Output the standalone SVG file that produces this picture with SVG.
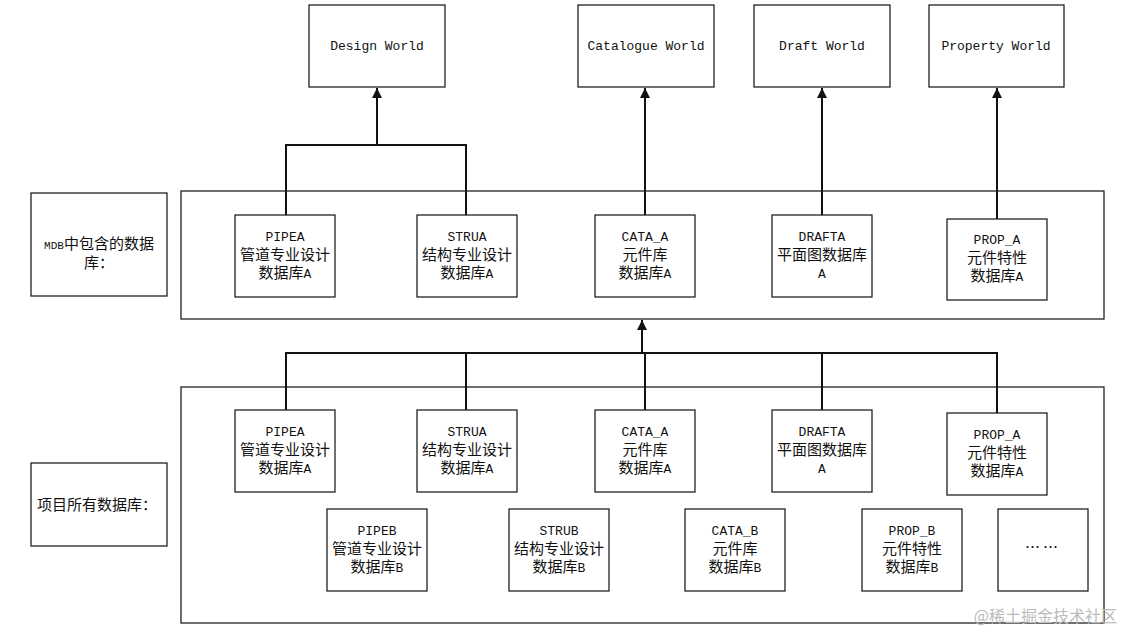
<svg xmlns="http://www.w3.org/2000/svg" width="1123" height="632" viewBox="0 0 1123 632">
<style>
.box{fill:#fff;stroke:#222;stroke-width:1.3}
.frame{fill:none;stroke:#222;stroke-width:1.3}
.con{fill:none;stroke:#111;stroke-width:2}
text{text-anchor:middle;fill:#111}
.m{font-family:"Liberation Mono","DejaVu Sans Mono",monospace;font-size:13px}
.s{font-family:"Liberation Mono","DejaVu Sans Mono",monospace;font-size:11px}
.c{font-family:"Noto Sans CJK SC","Noto Sans",sans-serif;font-size:15px}
.wm{font-family:"Noto Sans CJK SC",sans-serif;font-size:16px;fill:#bbb;text-anchor:end}
</style>
<defs>
<marker id="ah" viewBox="0 0 10 10" refX="10" refY="5" markerWidth="5" markerHeight="5" orient="auto" markerUnits="strokeWidth">
<path d="M0,0 L10,5 L0,10 z" fill="#111"/>
</marker>
</defs>
<rect width="1123" height="632" fill="#fff"/>

<!-- frames -->
<rect id="mdb-frame" class="frame" x="181" y="191" width="923" height="128"/>
<rect id="proj-frame" class="frame" x="181" y="387" width="923" height="236"/>

<!-- connectors -->
<g id="connectors">
<polyline class="con" points="286,215 286,145 466,145 466,215"/>
<line class="con" x1="377" y1="145" x2="377" y2="88" marker-end="url(#ah)"/>
<line class="con" x1="645" y1="215" x2="645" y2="88" marker-end="url(#ah)"/>
<line class="con" x1="822" y1="215" x2="822" y2="88" marker-end="url(#ah)"/>
<line class="con" x1="997" y1="219" x2="997" y2="88" marker-end="url(#ah)"/>
<polyline class="con" points="286,410 286,353 997,353 997,413"/>
<line class="con" x1="466" y1="353" x2="466" y2="410"/>
<line class="con" x1="645" y1="353" x2="645" y2="410"/>
<line class="con" x1="822" y1="353" x2="822" y2="410"/>
<line class="con" x1="642" y1="353" x2="642" y2="320" marker-end="url(#ah)"/>
</g>

<!-- world boxes -->
<g id="design-world"><rect class="box" x="309" y="5" width="136" height="82"/><text class="m" x="377" y="50">Design World</text></g>
<g id="catalogue-world"><rect class="box" x="578" y="5" width="136" height="82"/><text class="m" x="646" y="50">Catalogue World</text></g>
<g id="draft-world"><rect class="box" x="754" y="5" width="136" height="82"/><text class="m" x="822" y="50">Draft World</text></g>
<g id="property-world"><rect class="box" x="929" y="5" width="135" height="82"/><text class="m" x="996" y="50">Property World</text></g>

<!-- label boxes -->
<g id="mdb-label"><rect class="box" x="31" y="193" width="136" height="103"/>
<text x="99" y="249"><tspan class="s">MDB</tspan><tspan class="c">中包含的数据</tspan></text>
<text class="c" x="99" y="268">库：</text></g>
<g id="proj-label"><rect class="box" x="31" y="463" width="136" height="83"/>
<text class="c" x="97" y="510">项目所有数据库：</text></g>

<!-- MDB row -->
<g id="mdb-pipea"><rect class="box" x="235" y="215" width="100" height="82"/>
<text class="m" x="285" y="241">PIPEA</text><text class="c" x="285" y="260">管道专业设计</text>
<text x="285" y="278"><tspan class="c">数据库</tspan><tspan class="m">A</tspan></text></g>
<g id="mdb-strua"><rect class="box" x="417" y="215" width="100" height="82"/>
<text class="m" x="467" y="241">STRUA</text><text class="c" x="467" y="260">结构专业设计</text>
<text x="467" y="278"><tspan class="c">数据库</tspan><tspan class="m">A</tspan></text></g>
<g id="mdb-cataa"><rect class="box" x="595" y="215" width="100" height="82"/>
<text class="m" x="645" y="241">CATA_A</text><text class="c" x="645" y="260">元件库</text>
<text x="645" y="278"><tspan class="c">数据库</tspan><tspan class="m">A</tspan></text></g>
<g id="mdb-drafta"><rect class="box" x="772" y="215" width="100" height="82"/>
<text class="m" x="822" y="241">DRAFTA</text><text class="c" x="822" y="260">平面图数据库</text>
<text class="m" x="822" y="278">A</text></g>
<g id="mdb-propa"><rect class="box" x="947" y="219" width="100" height="81"/>
<text class="m" x="997" y="244">PROP_A</text><text class="c" x="997" y="263">元件特性</text>
<text x="997" y="281"><tspan class="c">数据库</tspan><tspan class="m">A</tspan></text></g>

<!-- project row 1 -->
<g id="p-pipea"><rect class="box" x="235" y="410" width="100" height="82"/>
<text class="m" x="285" y="436">PIPEA</text><text class="c" x="285" y="455">管道专业设计</text>
<text x="285" y="473"><tspan class="c">数据库</tspan><tspan class="m">A</tspan></text></g>
<g id="p-strua"><rect class="box" x="417" y="410" width="100" height="82"/>
<text class="m" x="467" y="436">STRUA</text><text class="c" x="467" y="455">结构专业设计</text>
<text x="467" y="473"><tspan class="c">数据库</tspan><tspan class="m">A</tspan></text></g>
<g id="p-cataa"><rect class="box" x="595" y="410" width="100" height="82"/>
<text class="m" x="645" y="436">CATA_A</text><text class="c" x="645" y="455">元件库</text>
<text x="645" y="473"><tspan class="c">数据库</tspan><tspan class="m">A</tspan></text></g>
<g id="p-drafta"><rect class="box" x="772" y="410" width="100" height="82"/>
<text class="m" x="822" y="436">DRAFTA</text><text class="c" x="822" y="455">平面图数据库</text>
<text class="m" x="822" y="473">A</text></g>
<g id="p-propa"><rect class="box" x="947" y="413" width="100" height="82"/>
<text class="m" x="997" y="439">PROP_A</text><text class="c" x="997" y="458">元件特性</text>
<text x="997" y="476"><tspan class="c">数据库</tspan><tspan class="m">A</tspan></text></g>

<!-- project row 2 -->
<g id="p-pipeb"><rect class="box" x="327" y="509" width="100" height="82"/>
<text class="m" x="377" y="535">PIPEB</text><text class="c" x="377" y="554">管道专业设计</text>
<text x="377" y="572"><tspan class="c">数据库</tspan><tspan class="m">B</tspan></text></g>
<g id="p-strub"><rect class="box" x="509" y="509" width="100" height="82"/>
<text class="m" x="559" y="535">STRUB</text><text class="c" x="559" y="554">结构专业设计</text>
<text x="559" y="572"><tspan class="c">数据库</tspan><tspan class="m">B</tspan></text></g>
<g id="p-catab"><rect class="box" x="685" y="509" width="100" height="82"/>
<text class="m" x="735" y="535">CATA_B</text><text class="c" x="735" y="554">元件库</text>
<text x="735" y="572"><tspan class="c">数据库</tspan><tspan class="m">B</tspan></text></g>
<g id="p-propb"><rect class="box" x="862" y="509" width="100" height="82"/>
<text class="m" x="912" y="535">PROP_B</text><text class="c" x="912" y="554">元件特性</text>
<text x="912" y="572"><tspan class="c">数据库</tspan><tspan class="m">B</tspan></text></g>
<g id="p-more"><rect class="box" x="998" y="509" width="90" height="82"/>
<text class="c" x="1043" y="553" letter-spacing="3">……</text></g>

<text class="wm" x="1117" y="622">@稀土掘金技术社区</text>
</svg>
